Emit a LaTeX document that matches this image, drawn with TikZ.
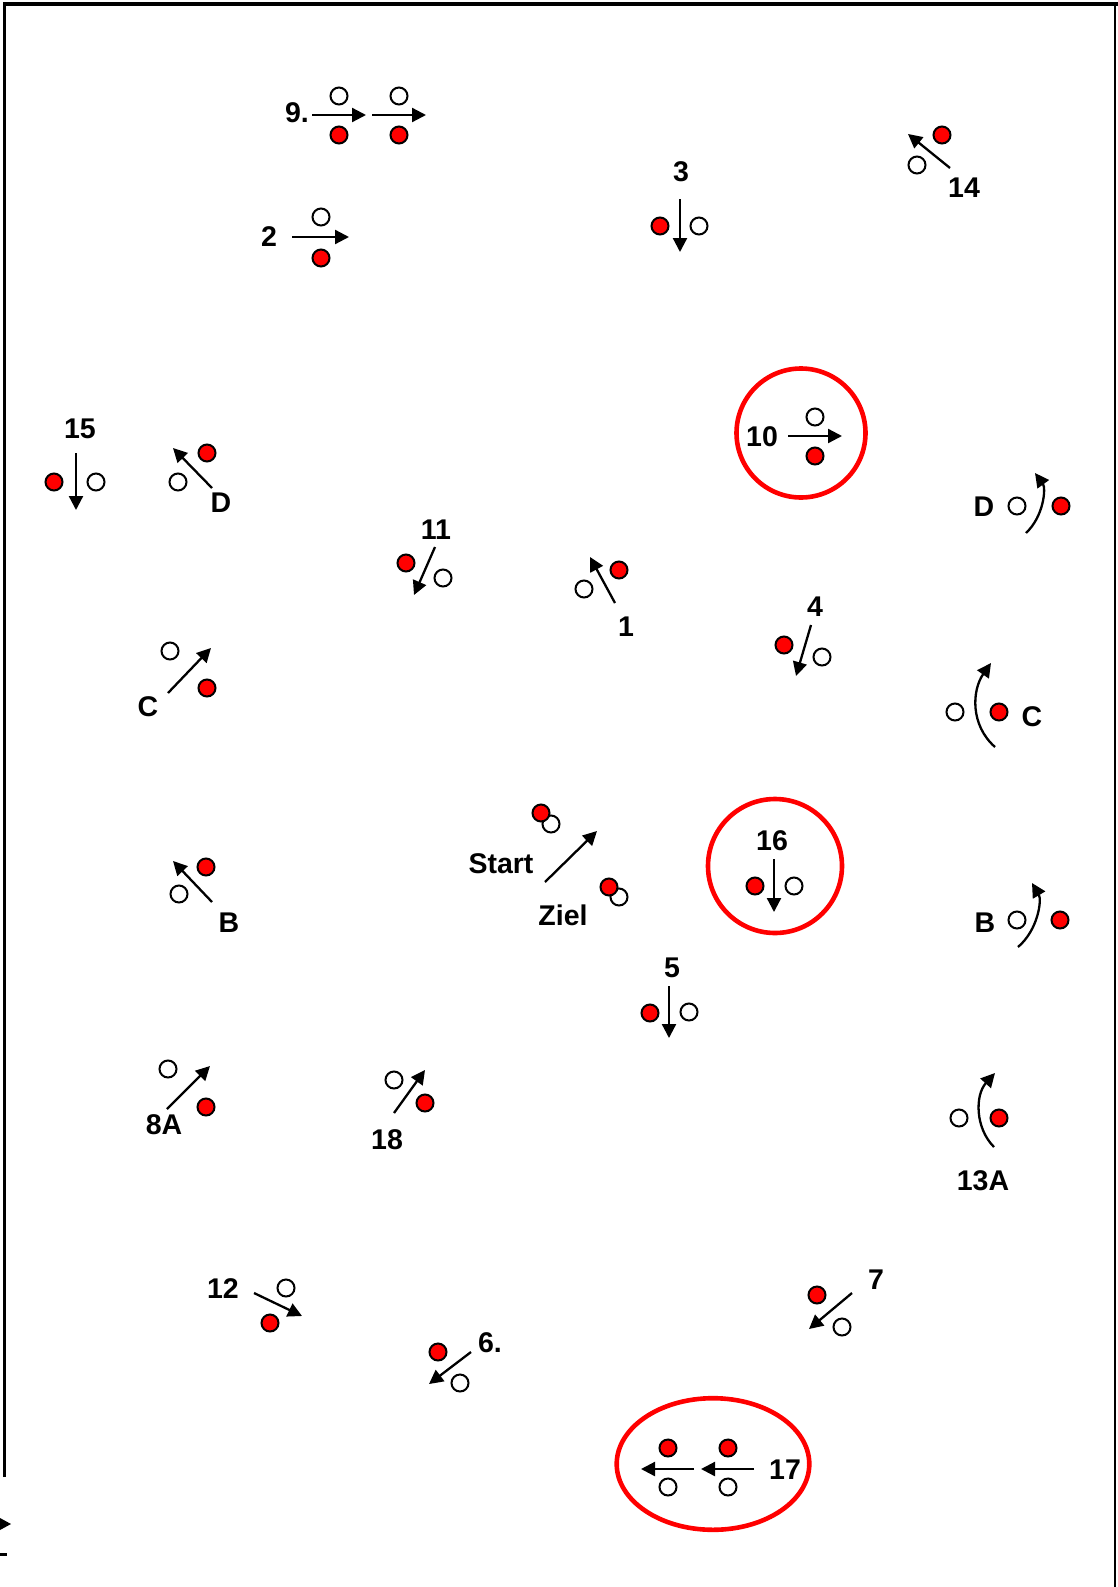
\documentclass[tikz,border=0pt]{standalone}
\usepackage{fontspec}
\setmainfont{Liberation Sans}
\usetikzlibrary{arrows.meta,shapes.geometric}
\newcommand\mvline[3]{\coordinate (#1s) at (#2); \coordinate (#1e) at (#3); \draw[mv] (#1s) -- (#1e);}
\newcommand\mvarc[5]{\coordinate (#1s) at (#2); \coordinate (#1e) at (#5); \draw[mv] (#1s) .. controls (#3) and (#4) .. (#1e);}
\begin{document}
\begin{tikzpicture}[x=1pt,y=-1pt,
  po/.style={circle, draw=black, line width=2pt, fill=white, minimum size=17pt, inner sep=0pt},
  pr/.style={po, fill=red},
  lbl/.style={font=\fontsize{28.5}{30}\selectfont\bfseries, inner sep=0pt},
  mv/.style={line width=2.3pt, -{Triangle[length=14pt,width=14pt]}},
  ring/.style={draw=red, line width=4.6pt, circle, inner sep=0pt},
  border/.style={line width=3.5pt}]
\useasboundingbox (0,0) rectangle (1118,1587);
% frame
\coordinate (fl) at (4.5,1477);
\coordinate (ftl) at (4.5,4);
\coordinate (ftr) at (1118,4);
\draw[border] (fl) -- (ftl) -- (ftr);
\coordinate (frt) at (1115,4);
\coordinate (frb) at (1115,1587);
\draw[line width=1.5pt] (frt) -- (frb);
\fill (0,1518) -- (11,1524) -- (0,1530) -- cycle;
\coordinate (dsa) at (0,1554);
\coordinate (dsb) at (7,1554);
\draw[line width=3pt] (dsa) -- (dsb);
% rings
\node[ring, minimum size=129pt] (ring10) at (801,433) {};
\node[ring, minimum size=134pt] (ring16) at (775,866) {};
\node[draw=red, line width=4.6pt, ellipse, inner sep=0pt, minimum width=192.6pt, minimum height=131.6pt] (ring17) at (713,1464) {};
% 9.
\node[lbl] (t9) at (297,113) {9.};
\node[po] (o9a) at (339,96) {};
\node[pr] (r9a) at (339,135) {};
\node[po] (o9b) at (399,96) {};
\node[pr] (r9b) at (399,135) {};
\mvline{a9a}{312,115}{366,115}
\mvline{a9b}{372,115}{426,115}
% 2
\node[lbl] (t2) at (269,237) {2};
\node[po] (o2) at (321,217) {};
\node[pr] (r2) at (321,258) {};
\mvline{a2}{292,237}{349,237}
% 3
\node[lbl] (t3) at (681,172) {3};
\node[pr] (r3) at (660,226) {};
\node[po] (o3) at (699,226) {};
\mvline{a3}{680,199}{680,252}
% 14
\node[pr] (r14) at (942,135) {};
\node[po] (o14) at (917,165) {};
\mvline{a14}{950,168}{908,134}
\node[lbl] (t14) at (964,188) {14};
% 10
\node[lbl] (t10) at (762,437) {10};
\node[po] (o10) at (815,417) {};
\node[pr] (r10) at (815,456) {};
\mvline{a10}{788,436}{842,436}
% 15
\node[lbl] (t15) at (80,429) {15};
\node[pr] (r15) at (54,482) {};
\node[po] (o15) at (96,482) {};
\mvline{a15}{76,453}{76,510}
% D left
\node[pr] (rDl) at (207,453) {};
\node[po] (oDl) at (178,482) {};
\mvline{aDl}{212,488}{173,448}
\node[lbl] (tDl) at (221,503) {D};
% D right
\node[lbl] (tDr) at (984,507) {D};
\node[po] (oDr) at (1017,506) {};
\node[pr] (rDr) at (1061,506) {};
\mvarc{aDr}{1026,533}{1044,516}{1046,488}{1035,473}
% 11
\node[lbl] (t11) at (436,530) {11};
\node[pr] (r11) at (406,563) {};
\node[po] (o11) at (443,578) {};
\mvline{a11}{435,547}{414,595}
% 1
\node[pr] (r1) at (619,570) {};
\node[po] (o1) at (584,589) {};
\mvline{a1}{615,603}{590,557}
\node[lbl] (t1) at (626,627) {1};
% 4
\node[lbl] (t4) at (815,607) {4};
\node[pr] (r4) at (784,645) {};
\node[po] (o4) at (822,657) {};
\mvline{a4}{811,625}{796,676}
% C left
\node[po] (oCl) at (170,651) {};
\node[pr] (rCl) at (207,688) {};
\mvline{aCl}{168,693}{211,648}
\node[lbl] (tCl) at (148,707) {C};
% C right
\node[po] (oCr) at (955,712) {};
\node[pr] (rCr) at (999,712) {};
\node[lbl] (tCr) at (1032,717) {C};
\mvarc{aCr}{995,747}{970,725}{972,690}{991,663}
% Start / Ziel
\node[lbl] (tStart) at (501,864) {Start};
\node[lbl] (tZiel) at (563,915) {Ziel};
\node[po] (oS) at (551,824) {};
\node[pr] (rS) at (541,813) {};
\node[po] (oZ) at (619,897) {};
\node[pr] (rZ) at (609,887) {};
\mvline{aSZ}{545,882}{597,831}
% 16
\node[lbl] (t16) at (772,841) {16};
\node[pr] (r16) at (755,886) {};
\node[po] (o16) at (794,886) {};
\mvline{a16}{774,859}{774,912}
% B left
\node[pr] (rBl) at (206,867) {};
\node[po] (oBl) at (179,894) {};
\mvline{aBl}{212,902}{173,861}
\node[lbl] (tBl) at (229,923) {B};
% B right
\node[lbl] (tBr) at (985,923) {B};
\node[po] (oBr) at (1017,920) {};
\node[pr] (rBr) at (1060,920) {};
\mvarc{aBr}{1018,947}{1038,930}{1042,900}{1032,883}
% 5
\node[lbl] (t5) at (672,968) {5};
\node[pr] (r5) at (650,1013) {};
\node[po] (o5) at (689,1012) {};
\mvline{a5}{669,986}{669,1038}
% 8A
\node[po] (o8) at (168,1069) {};
\node[pr] (r8) at (206,1107) {};
\mvline{a8}{167,1109}{210,1066}
\node[lbl] (t8) at (164,1125) {8A};
% 18
\node[po] (o18) at (394,1080) {};
\node[pr] (r18) at (425,1103) {};
\mvline{a18}{394,1113}{425,1070}
\node[lbl] (t18) at (387,1140) {18};
% 13A
\node[po] (o13) at (959,1118) {};
\node[pr] (r13) at (999,1118) {};
\mvarc{a13}{994,1147}{975,1128}{975,1095}{995,1073}
\node[lbl] (t13) at (983,1181) {13A};
% 12
\node[lbl] (t12) at (223,1289) {12};
\node[po] (o12) at (286,1288) {};
\node[pr] (r12) at (270,1323) {};
\mvline{a12}{254,1293}{302,1316}
% 6.
\node[lbl] (t6) at (490,1343) {6.};
\node[pr] (r6) at (438,1352) {};
\node[po] (o6) at (460,1383) {};
\mvline{a6}{471,1352}{429,1384}
% 7
\node[lbl] (t7) at (876,1280) {7};
\node[pr] (r7) at (817,1295) {};
\node[po] (o7) at (842,1327) {};
\mvline{a7}{852,1293}{809,1329}
% 17
\node[pr] (r17a) at (668,1448) {};
\node[pr] (r17b) at (728,1448) {};
\node[po] (o17a) at (668,1487) {};
\node[po] (o17b) at (728,1487) {};
\mvline{a17a}{694,1469}{641,1469}
\mvline{a17b}{754,1469}{701,1469}
\node[lbl] (t17) at (785,1470) {17};
\end{tikzpicture}
\end{document}
